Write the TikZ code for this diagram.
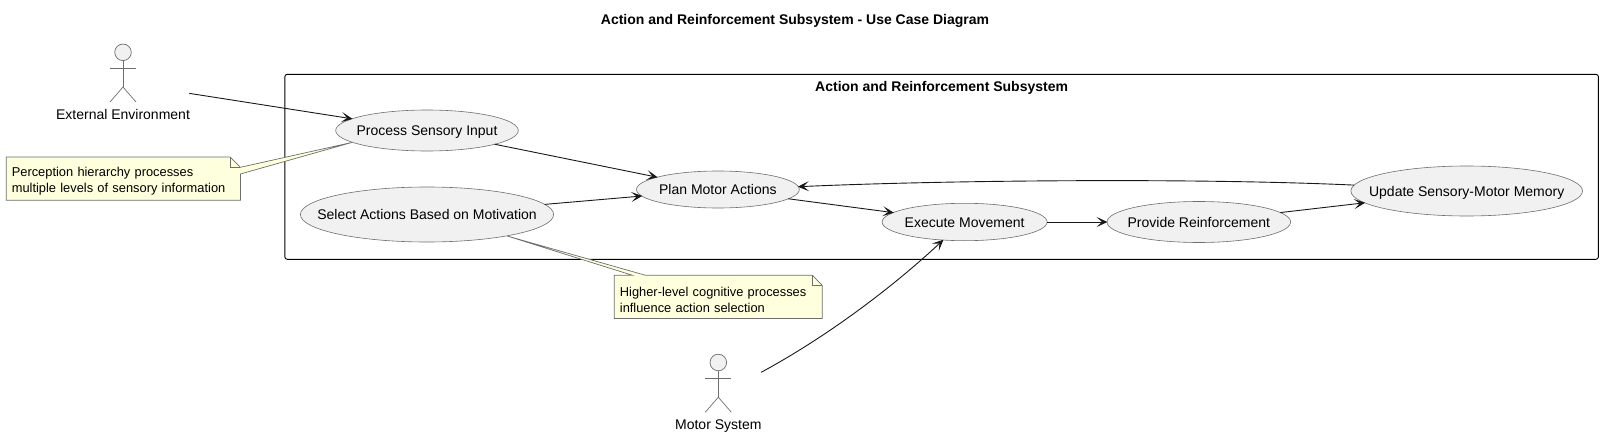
\documentclass[tikz,border=0pt]{standalone}
\usepackage{fontspec}
\setmainfont{Liberation Sans}
\usetikzlibrary{shapes.geometric,arrows.meta,backgrounds}

\definecolor{usefill}{HTML}{F1F1F1}
\definecolor{notefill}{HTML}{FEFFDD}
\definecolor{edgegray}{HTML}{6E6E6E}
\definecolor{flowline}{HTML}{181818}

\tikzset{
  usecase/.style={ellipse,draw=edgegray,fill=usefill,line width=.6pt,inner sep=0pt,outer sep=0pt,text height=13pt,text depth=3pt,font=\fontsize{14}{16}\selectfont},
  actorbox/.style={minimum width=#1,minimum height=78pt,inner sep=0pt,outer sep=0pt},
  actorname/.style={inner sep=0pt,text height=13pt,text depth=3pt,font=\fontsize{14}{16}\selectfont},
  boldhead/.style={inner sep=0pt,text height=13pt,text depth=3pt,font=\bfseries\fontsize{14}{16}\selectfont},
  figline/.style={draw=edgegray,line width=.7pt},
  notebox/.style={inner xsep=5.6pt,inner ysep=0pt,outer sep=0pt,minimum height=43.3pt,align=left,font=\fontsize{12.85}{16}\selectfont},
  noteline/.style={draw=edgegray,line width=.7pt},
  flow/.style={draw=flowline,line width=.9pt,-{Stealth[length=11pt,width=10pt,inset=5.5pt]},shorten >=-.5pt},
}

% the ellipse takes its size from its minimum width, not from the text
\newcommand{\uctext}[1]{\makebox[0pt]{#1}}

% stick figure hanging from the top of an actor box
\newcommand{\stickman}[1]{
  \draw[figline,fill=usefill] ([yshift=-8.3pt]#1.north) circle (8.3pt);
  \draw[figline] ([yshift=-16.6pt]#1.north) -- ([yshift=-43pt]#1.north);
  \draw[figline] ([xshift=-13pt,yshift=-24.3pt]#1.north) -- ([xshift=13pt,yshift=-24.3pt]#1.north);
  \draw[figline] ([xshift=-13pt,yshift=-58pt]#1.north) -- ([yshift=-43pt]#1.north) -- ([xshift=13pt,yshift=-58pt]#1.north);
}

\begin{document}
\begin{tikzpicture}[x=1pt,y=-1pt,node distance=0pt]
  \useasboundingbox (0,0) rectangle (1603,436);

  \node[boldhead] (title) at (795,20) {Action and Reinforcement Subsystem - Use Case Diagram};

  \begin{pgfonlayer}{background}
    \node[draw=black,line width=.9pt,rounded corners=2.5pt,minimum width=1313.6pt,minimum height=185pt,inner sep=0pt,outer sep=0pt] (subsys) at (941.6,166.8) {};
  \end{pgfonlayer}
  \node[boldhead] (subsystitle) at ([yshift=-12pt]subsys.north) {Action and Reinforcement Subsystem};

  % actors
  \node[actorbox=132.6pt] (extenv) at (123,83) {};
  \node[actorname] (extname) at ([yshift=8pt]extenv.south) {External Environment};
  \stickman{extenv}
  \node[actorbox=86pt] (motor) at (718.3,393.2) {};
  \node[actorname] (motorname) at ([yshift=8pt]motor.south) {Motor System};
  \stickman{motor}

  % use cases
  \node[usecase,minimum width=182.6pt,minimum height=41pt] (psi) at (427,130.5) {\uctext{Process Sensory Input}};
  \node[usecase,minimum width=253.2pt,minimum height=55pt] (sel) at (427,214.5) {\uctext{Select Actions Based on Motivation}};
  \node[usecase,minimum width=162.8pt,minimum height=37pt] (plan) at (717.9,189.5) {\uctext{Plan Motor Actions}};
  \node[usecase,minimum width=165pt,minimum height=37.4pt,right of=plan,xshift=246.7pt,yshift=-32.5pt] (exec) {\uctext{Execute Movement}};
  \node[usecase,minimum width=183.6pt,minimum height=41pt,right of=exec,xshift=234.2pt] (reinf) {\uctext{Provide Reinforcement}};
  \node[usecase,minimum width=231.6pt,minimum height=50pt,right of=reinf,xshift=267.9pt,yshift=31pt] (update) {\uctext{Update Sensory-Motor Memory}};

  % notes
  \node[notebox,text width=223pt] (percnote) at (123.3,178.65) {\rule{0pt}{15pt}Perception hierarchy processes\\multiple levels of sensory information};
  \node[notebox,text width=196.8pt] (cognote) at (718.3,296.8) {\rule{0pt}{15pt}Higher-level cognitive processes\\influence action selection};

  \begin{pgfonlayer}{background}
    \draw[noteline,fill=notefill] (percnote.north west) -- ([xshift=-10.4pt]percnote.north east) -- ([yshift=-10.3pt]percnote.north east) -- (psi.189) -- ([yshift=-17pt]percnote.north east) -- (percnote.south east) -- (percnote.south west) -- cycle;
    \draw[noteline,fill=notefill] (cognote.north west) -- ([xshift=17.7pt]cognote.north west) -- (sel.-15) -- ([xshift=30.7pt]cognote.north west) -- ([xshift=-10pt]cognote.north east) -- ([yshift=-10.4pt]cognote.north east) -- (cognote.south east) -- (cognote.south west) -- cycle;
  \end{pgfonlayer}
  \draw[noteline] ([xshift=-10.4pt]percnote.north east) -- ([xshift=-10.4pt,yshift=-10.3pt]percnote.north east) -- ([yshift=-10.3pt]percnote.north east);
  \draw[noteline] ([xshift=-10pt]cognote.north east) -- ([xshift=-10pt,yshift=-10.4pt]cognote.north east) -- ([yshift=-10.4pt]cognote.north east);

  \draw[flow] (extenv) -- (psi);
  \draw[flow] (psi) -- (plan);
  \draw[flow] (sel) -- (plan);
  \draw[flow] (plan) -- (exec);
  \draw[flow] (exec) -- (reinf);
  \draw[flow] (reinf) -- (update);
  \draw[flow] (update.177) .. controls (1200,178) and (950,180) .. (plan.2);
  \draw[flow] (motor.26) .. controls (830,335) and (895,285) .. (exec.220);
\end{tikzpicture}
\end{document}
